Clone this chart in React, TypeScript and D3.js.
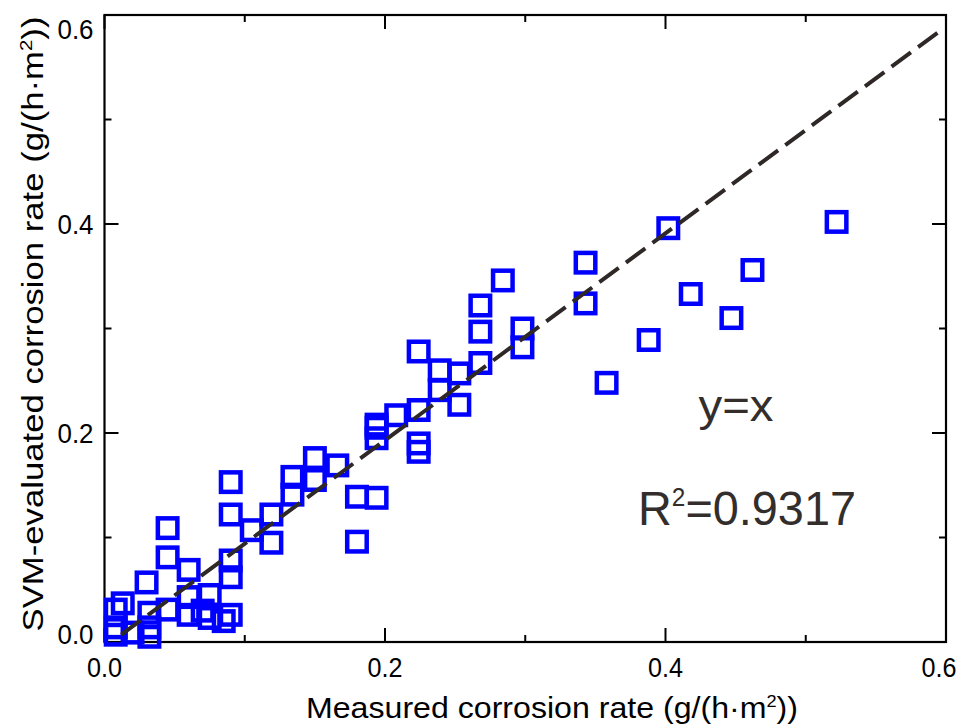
import React from "react";
import * as d3 from "d3";

// measured vs SVM-evaluated corrosion rate, g/(h·m²)
const measured = [
  0.402, 0.522, 0.343, 0.343, 0.462, 0.418, 0.447, 0.388, 0.358, 0.298, 0.298,
  0.284, 0.268, 0.268, 0.268, 0.224, 0.239, 0.253, 0.239, 0.253, 0.224, 0.208,
  0.194, 0.194, 0.194, 0.166, 0.15, 0.15, 0.134, 0.134, 0.119, 0.119, 0.105,
  0.18, 0.194, 0.18, 0.224, 0.224, 0.09, 0.09, 0.09, 0.09, 0.09, 0.045, 0.045,
  0.06, 0.03, 0.06, 0.075, 0.075, 0.06, 0.045, 0.032, 0.032, 0.032, 0.013,
  0.008, 0.008, 0.008, 0.02, 0.07, 0.085,
];
const evaluated = [
  0.396, 0.402, 0.363, 0.324, 0.356, 0.333, 0.31, 0.289, 0.248, 0.3, 0.282,
  0.346, 0.322, 0.297, 0.267, 0.278, 0.26, 0.257, 0.241, 0.227, 0.222, 0.217,
  0.205, 0.195, 0.208, 0.169, 0.176, 0.155, 0.158, 0.141, 0.122, 0.095, 0.107,
  0.139, 0.138, 0.096, 0.19, 0.182, 0.153, 0.122, 0.078, 0.062, 0.026, 0.109,
  0.081, 0.069, 0.057, 0.043, 0.045, 0.023, 0.026, 0.031, 0.028, 0.014, 0.005,
  0.037, 0.031, 0.014, 0.007, 0.009, 0.03, 0.02,
];

// dashed y=x guide, as drawn in the figure
const guideX = [0.012, 0.594];
const guideY = [0.007, 0.583];

const majorTicks = [0, 0.2, 0.4, 0.6];
const minorTicks = [0.1, 0.3, 0.5];

const width = 965;
const height = 724;
const left = 104.5;
const right = 946;
const top = 15;
const bottom = 642;

export default function App() {
  const x = d3.scaleLinear().domain([0, 0.6]).range([left, right]);
  const y = d3.scaleLinear().domain([0, 0.6]).range([bottom, top]);

  const guide = d3
    .line<number>()
    .x((d, i) => x(guideX[i]))
    .y((d, i) => y(guideY[i]));

  const sq = 19.5;
  const font = "'Liberation Sans', Arial, sans-serif";
  const tickFmt = d3.format(".1f");

  const ticks = (vals: number[], len: number) =>
    vals.map((v) => (
      <g key={"t" + v + len} stroke="#000" strokeWidth={2}>
        <line x1={x(v)} x2={x(v)} y1={bottom} y2={bottom - len} />
        <line x1={x(v)} x2={x(v)} y1={top} y2={top + len} />
        <line x1={left} x2={left + len} y1={y(v)} y2={y(v)} />
        <line x1={right} x2={right - len} y1={y(v)} y2={y(v)} />
      </g>
    ));

  // labels at the ends are pulled in a little, like the original
  const yLabelPos = (v: number) =>
    Math.min(Math.max(y(v), top + 14), bottom - 8) + 10;
  const xLabelPos = (v: number) => Math.min(x(v), width - 26);

  return (
    <svg
      width={width}
      height={height}
      style={{ position: "absolute", left: 0, top: 0, background: "#fff" }}
    >
      {ticks(majorTicks, 14)}
      {ticks(minorTicks, 7)}
      <rect
        x={left}
        y={top}
        width={right - left}
        height={bottom - top}
        fill="none"
        stroke="#000"
        strokeWidth={2.2}
      />

      {measured.map((m, i) => (
        <rect
          key={i}
          x={x(m) - sq / 2}
          y={y(evaluated[i]) - sq / 2}
          width={sq}
          height={sq}
          fill="none"
          stroke="#0000ff"
          strokeWidth={4.5}
        />
      ))}

      <path
        d={guide(guideX) || ""}
        fill="none"
        stroke="#2e2826"
        strokeWidth={4}
        strokeDasharray="24 9"
      />

      <g fontFamily={font} fontSize={28} fill="#000">
        {majorTicks.map((v) => (
          <text
            key={"xl" + v}
            x={xLabelPos(v)}
            y={677}
            textAnchor="middle"
            textLength={35}
            lengthAdjust="spacingAndGlyphs"
          >
            {tickFmt(v)}
          </text>
        ))}
        {majorTicks.map((v) => (
          <text
            key={"yl" + v}
            x={left - 11}
            y={yLabelPos(v)}
            textAnchor="end"
            textLength={36}
            lengthAdjust="spacingAndGlyphs"
          >
            {tickFmt(v)}
          </text>
        ))}
      </g>

      <text
        x={552}
        y={718}
        textAnchor="middle"
        fontFamily={font}
        fontSize={30}
        fill="#000"
        textLength={492}
        lengthAdjust="spacingAndGlyphs"
      >
        Measured corrosion rate (g/(h·m
        <tspan dy={-11} fontSize={17}>
          2
        </tspan>
        <tspan dy={11}>))</tspan>
      </text>

      <text
        transform={`translate(43,${324}) rotate(-90)`}
        textAnchor="middle"
        fontFamily={font}
        fontSize={29}
        fill="#000"
        textLength={615}
        lengthAdjust="spacingAndGlyphs"
      >
        SVM-evaluated corrosion rate (g/(h·m
        <tspan dy={-11} fontSize={17}>
          2
        </tspan>
        <tspan dy={11}>))</tspan>
      </text>

      <text
        x={736}
        y={421}
        textAnchor="middle"
        fontFamily={font}
        fontSize={44}
        fill="#332e2c"
        textLength={75}
        lengthAdjust="spacingAndGlyphs"
      >
        y=x
      </text>
      <text
        x={638}
        y={525}
        fontFamily={font}
        fontSize={48}
        fill="#332e2c"
        textLength={218}
        lengthAdjust="spacingAndGlyphs"
      >
        R
        <tspan dy={-19} fontSize={25}>
          2
        </tspan>
        <tspan dy={19}>=0.9317</tspan>
      </text>
    </svg>
  );
}
